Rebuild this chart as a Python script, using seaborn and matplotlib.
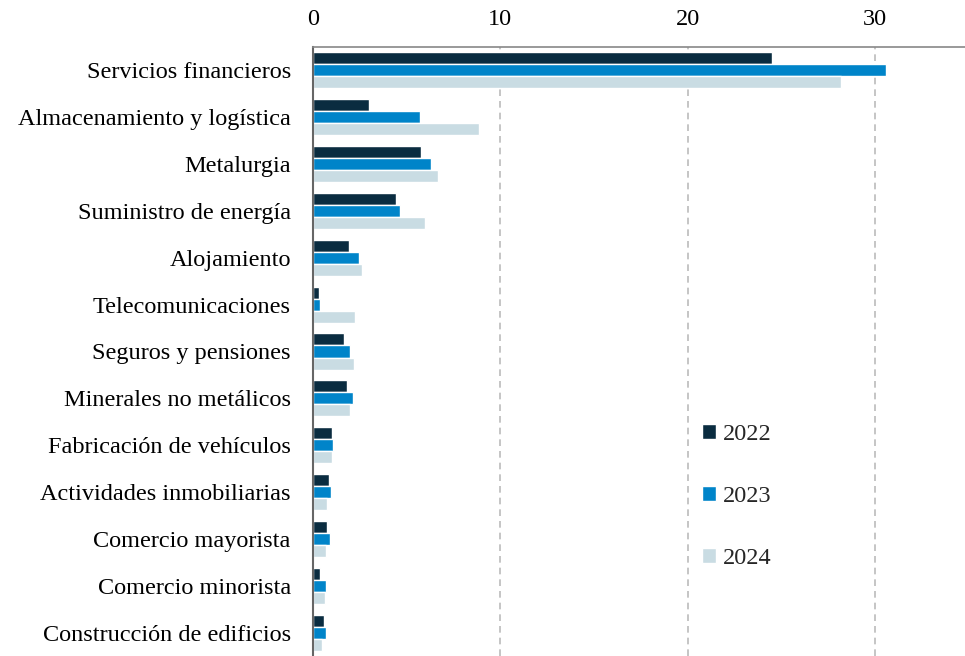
import matplotlib
matplotlib.use("Agg")
import matplotlib.pyplot as plt
import seaborn as sns
import pandas as pd

categories = [
    "Servicios financieros",
    "Almacenamiento y logística",
    "Metalurgia",
    "Suministro de energía",
    "Alojamiento",
    "Telecomunicaciones",
    "Seguros y pensiones",
    "Minerales no metálicos",
    "Fabricación de vehículos",
    "Actividades inmobiliarias",
    "Comercio mayorista",
    "Comercio minorista",
    "Construcción de edificios",
]
years = ["2022", "2023", "2024"]
v2022 = [24.5, 3.0, 5.75, 4.45, 1.9, 0.3, 1.65, 1.8, 1.0, 0.85, 0.75, 0.35, 0.6]
v2023 = [30.6, 5.7, 6.3, 4.65, 2.45, 0.35, 2.0, 2.15, 1.05, 0.95, 0.9, 0.7, 0.7]
v2024 = [28.2, 8.85, 6.65, 6.0, 2.6, 2.25, 2.2, 2.0, 1.0, 0.75, 0.68, 0.65, 0.5]
colors = ["#0A2C40", "#0084C9", "#C9DCE3"]

df = pd.DataFrame({
    "cat": categories * 3,
    "year": [y for y in years for _ in categories],
    "val": v2022 + v2023 + v2024,
})

sns.set_style("white")
plt.rcParams["font.family"] = ["Liberation Serif", "DejaVu Serif"]

fig = plt.figure(figsize=(9.65, 6.56), dpi=100)
ax = fig.add_axes([313 / 965, 0.0, 1 - 313 / 965, (656 - 47) / 656])

sns.barplot(data=df, y="cat", x="val", hue="year", palette=colors,
            orient="h", width=0.77, order=categories, hue_order=years,
            ax=ax, saturation=1, legend=True, errorbar=None)

ax.set_xlim(0, 34.8)
ax.set_ylim(12.5, -0.5)
ax.xaxis.tick_top()
ax.set_xticks([0, 10, 20, 30])
ax.set_xticklabels(["0", "10", "20", "30"])
ax.tick_params(axis="x", length=0, pad=12, labelsize=17.5, colors="black")
ax.tick_params(axis="y", length=0, pad=16, labelsize=17.5, colors="black")
ax.set_xlabel("")
ax.set_ylabel("")

for x in [10, 20, 30]:
    ax.axvline(x, color="#BBBBBB", linestyle=(0, (4, 3)), linewidth=1.2, zorder=0)

for s in ["right", "bottom"]:
    ax.spines[s].set_visible(False)
ax.spines["top"].set_color("#888888")
ax.spines["top"].set_linewidth(1.2)
ax.spines["left"].set_color("#666666")
ax.spines["left"].set_linewidth(1.5)

ax.legend(loc="upper left", bbox_to_anchor=(690 / 965, 1 - 412 / 656),
          bbox_transform=fig.transFigure, frameon=False, fontsize=17.5,
          handlelength=0.55, handleheight=0.55, handletextpad=0.3,
          labelspacing=1.68, borderpad=0)

fig.savefig("out.png", dpi=100)
